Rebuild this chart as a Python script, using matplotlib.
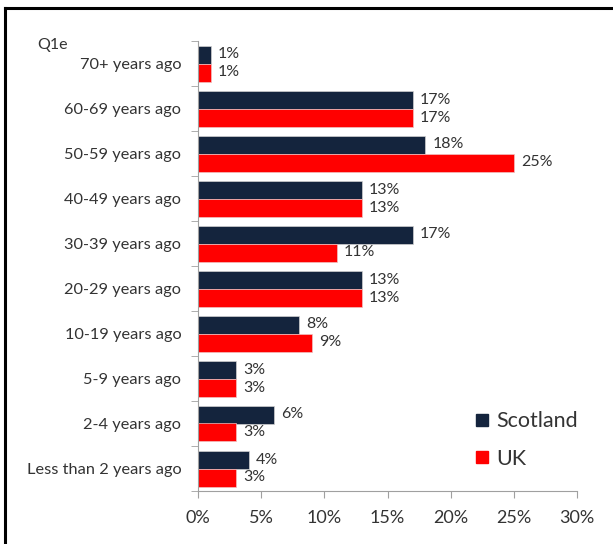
import numpy as np
import matplotlib
matplotlib.use("Agg")
from matplotlib import pyplot as plt
from matplotlib.lines import Line2D

plt.rcParams['font.family'] = ['Lato', 'DejaVu Sans']

# data, top to bottom as in the chart
categories = ['70+ years ago', '60-69 years ago', '50-59 years ago', '40-49 years ago',
              '30-39 years ago', '20-29 years ago', '10-19 years ago', '5-9 years ago',
              '2-4 years ago', 'Less than 2 years ago']
scotland = [1, 17, 18, 13, 17, 13, 8, 3, 6, 4]
uk = [1, 17, 25, 13, 11, 13, 9, 3, 3, 3]
xticks = [0, 5, 10, 15, 20, 25, 30]

navy = '#14243d'
red = '#ff0000'
txt = '#333333'

W, H = 613, 544
fig = plt.figure(figsize=(W / 100, H / 100), dpi=100)
ax = fig.add_axes([198 / W, 1 - 491 / H, 379 / W, 450 / H])

n = len(categories)
y = np.arange(n)
h = 0.4
ax.barh(y - h / 2, scotland, height=h, color=navy, edgecolor='#d0d0d0', linewidth=0.5)
ax.barh(y + h / 2, uk, height=h, color=red, edgecolor='#f0c0c0', linewidth=0.5)

for i in range(n):
    ax.annotate('%d%%' % scotland[i], (scotland[i], y[i] - h / 2), xytext=(5, 0),
                textcoords='offset points', va='center', ha='left', fontsize=11.5, color=txt)
    ax.annotate('%d%%' % uk[i], (uk[i], y[i] + h / 2), xytext=(5, 0),
                textcoords='offset points', va='center', ha='left', fontsize=11.5, color=txt)

ax.set_ylim(n - 0.5, -0.5)
ax.set_xlim(0, 30)
ax.set_xticks(xticks)
ax.set_xticklabels(['%d%%' % v for v in xticks], fontsize=13, color=txt)
ax.set_yticks(y)
ax.set_yticklabels(categories, fontsize=11.8, color=txt, va='center_baseline')
ax.tick_params(axis='y', length=0, pad=12)
ax.tick_params(axis='x', length=5, color='#a0a0a0', pad=9)
# category boundary ticks on the y axis
ax.set_yticks(np.arange(n + 1) - 0.5, minor=True)
ax.tick_params(axis='y', which='minor', length=5, color='#a0a0a0')

for s in ['top', 'right']:
    ax.spines[s].set_visible(False)
for s in ['left', 'bottom']:
    ax.spines[s].set_color('#a0a0a0')
    ax.spines[s].set_linewidth(0.8)

fig.text(37 / W, 1 - 45 / H, 'Q1e', fontsize=11.5, color=txt, va='center')

handles = [Line2D([], [], marker='s', linestyle='none', markersize=9, color=navy),
           Line2D([], [], marker='s', linestyle='none', markersize=9, color=red)]
fig.legend(handles, ['Scotland', 'UK'], loc='center left', bbox_to_anchor=(452 / W, 1 - 440 / H),
           frameon=False, fontsize=15.5, labelspacing=0.8, handletextpad=0.15, handlelength=1.0,
           labelcolor=txt)

# outer frame (left and top edges)
fig.add_artist(Line2D([5 / W, 5 / W], [0, 1 - 8 / H], color='black', linewidth=2.2,
                      transform=fig.transFigure))
fig.add_artist(Line2D([5 / W, 1], [1 - 8 / H, 1 - 8 / H], color='black', linewidth=2.2,
                      transform=fig.transFigure))

fig.savefig('out.png', dpi=100)
